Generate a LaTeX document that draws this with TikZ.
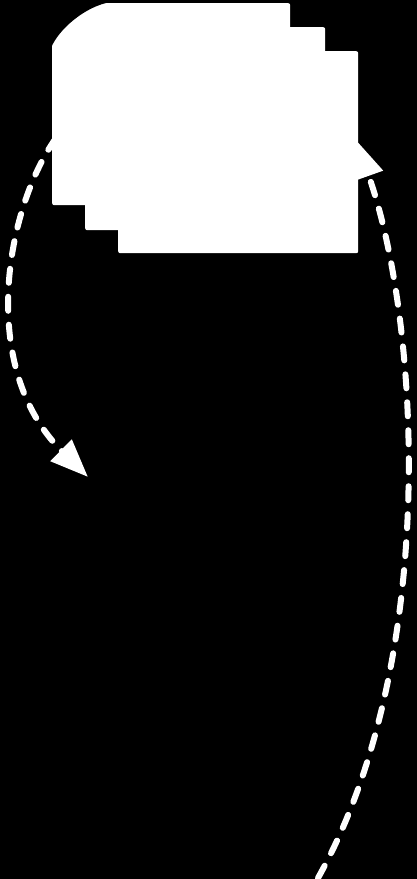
\documentclass[tikz,border=0pt]{standalone}
\usetikzlibrary{arrows.meta}
\begin{document}
\begin{tikzpicture}[x=1pt,y=-1pt,
  sheet/.style={rectangle,fill=white,draw=none,inner sep=0pt,rounded corners=2pt,anchor=north west},
  flow/.style={white,line width=6pt,line cap=round,dash pattern=on 14pt off 14pt,-{Triangle[length=38pt,width=29pt]}}]
\fill[black] (0,0) rectangle (417,879);
\useasboundingbox (0,0) rectangle (417,879);
% connectors (under the sheets)
\coordinate (lstart) at (56,138);
\coordinate (lend) at (88,477);
\coordinate (rstart) at (318,878);
\coordinate (rend) at (356,140);
\draw[flow] (lstart) .. controls (5,210) and (-22,368) .. (lend);
\draw[flow] (rstart) .. controls (440,660) and (420,320) .. (rend);
% stacked sheets
\node[sheet,minimum width=238pt,minimum height=202pt] (s1) at (52,3) {};
\node[sheet,minimum width=240pt,minimum height=203pt] (s2) at (85,27) {};
\node[sheet,minimum width=240pt,minimum height=202pt] (s3) at (118,51) {};
% cut corner of the first sheet
\fill[black] (51,2) -- (51,48) .. controls (58,30) and (85,6) .. (111,2) -- cycle;
\end{tikzpicture}
\end{document}
